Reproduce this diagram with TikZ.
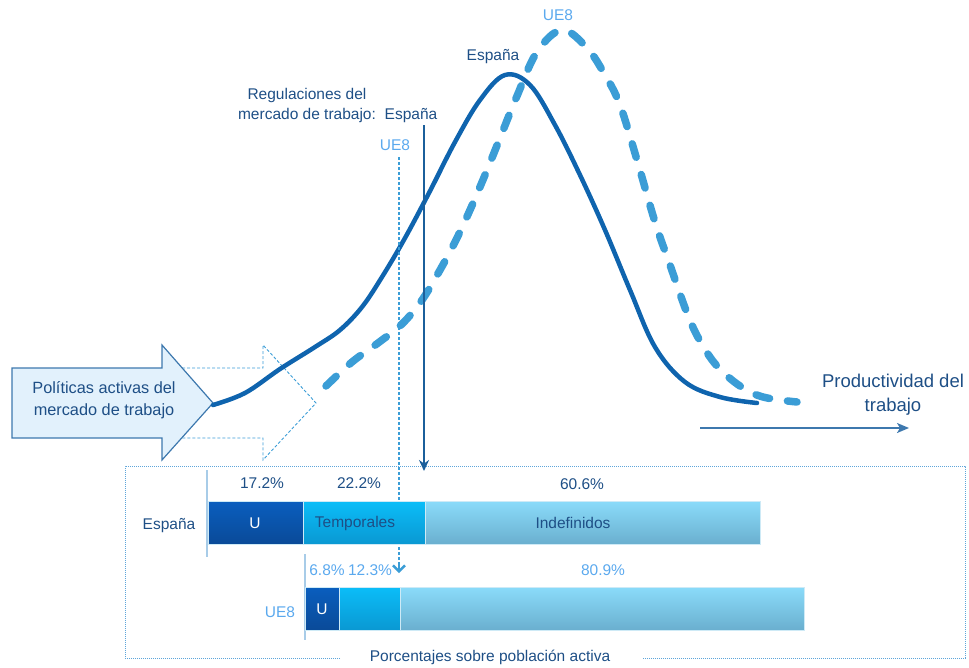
\documentclass[tikz,border=0pt]{standalone}
\usepackage{fontspec}
\setmainfont{Liberation Sans}
\usetikzlibrary{arrows.meta}
\definecolor{dtext}{HTML}{1E4F86}
\definecolor{ltext}{HTML}{5BA9EE}
\definecolor{scurve}{HTML}{0F64AE}
\definecolor{dcurve}{HTML}{3B9DD6}
\definecolor{vline}{HTML}{1B5F9B}
\definecolor{arrfill}{HTML}{E2F1FC}
\definecolor{arrdraw}{HTML}{3D78AE}
\definecolor{dotcol}{HTML}{5EA5DA}
\definecolor{uTop}{HTML}{0A5EBE}
\definecolor{uBot}{HTML}{0A4A98}
\definecolor{tTop}{HTML}{0BBDF8}
\definecolor{tBot}{HTML}{0A98D2}
\definecolor{iTop}{HTML}{8ADBFA}
\definecolor{iBot}{HTML}{6AAFCF}
\definecolor{tick}{HTML}{A8CCE8}
\tikzset{
  lbl/.style={inner sep=0pt, text=dtext},
  lblL/.style={inner sep=0pt, text=ltext},
  barseg/.style={anchor=north west, inner sep=0pt, draw=white!80!tBot, line width=0.6pt},
  segU/.style={barseg, top color=uTop, bottom color=uBot},
  segT/.style={barseg, top color=tTop, bottom color=tBot},
  segI/.style={barseg, top color=iTop, bottom color=iBot},
  dotbox/.style={draw=dotcol, line width=0.8pt, dash pattern=on 1pt off 1pt},
  ticks/.style={draw=tick, line width=1.5pt}
}
\begin{document}
\begin{tikzpicture}[x=1pt,y=-1pt, font=\fontsize{15.5}{20}\selectfont]
\useasboundingbox (0,0) rectangle (969,667);

% dotted frame
\draw[dotbox] (340,658) -- (125,658) -- (125,466) -- (965,466) -- (965,658) -- (642,658);
\node[lbl] (pct) at (490,657) {Porcentajes sobre población activa};

% dashed outline arrow
\draw[draw=dcurve, line width=0.9pt, dash pattern=on 3pt off 2pt]
  (162,368) -- (263,368) -- (263,345) -- (316,403) -- (263,460) -- (263,438) -- (162,438);
% solid arrow
\draw[fill=arrfill, draw=arrdraw, line width=1.2pt]
  (12,368) -- (162,368) -- (162,345) -- (213,403) -- (162,460) -- (162,438) -- (12,438) -- cycle;
\node[lbl, align=center, font=\fontsize{16.3}{22}\selectfont] (pol) at (104,400) {Políticas activas del\\mercado de trabajo};

% curves
\draw[scurve, line width=4.5pt, line cap=round] plot[smooth, tension=0.6] coordinates {
  (213,405) (245,393) (280,369) (315,347) (340,330) (362,307) (382,277) (405,238) (430,191)
  (455,142) (480,100) (505,75) (530,85) (555,125) (580,175) (605,230) (630,290) (655,347)
  (685,382) (720,397) (757,403)};
\draw[dcurve, line width=7.5pt, line cap=round, dash pattern=on 14pt off 18pt] plot[smooth, tension=0.6] coordinates {
  (326,386) (352,362) (378,343) (402,324) (422,300) (440,270) (455,242) (470,210) (485,175)
  (500,138) (517,96) (537,52) (562,30) (587,48) (605,75) (620,105) (637,160) (655,222)
  (670,265) (687,313) (700,341) (717,366) (740,386) (763,397) (797,402)};

\node[lbl] (esp) at (493,57) {España};
\node[lblL] (ue8) at (558,15) {UE8};

% regulation labels and arrows
\node[lbl, align=center] (reg) at (307,105) {Regulaciones del\\mercado de trabajo:};
\node[lbl] (regE) at (411,116) {España};
\node[lblL] (regU) at (395,145) {UE8};
\coordinate (eTop) at (424,125);
\coordinate (eBot) at (424,471);
\coordinate (uTopC) at (399,157);
\coordinate (uBotC) at (399,573);
\draw[vline, line width=2pt, -{Stealth[length=11pt,width=10pt]}] (eTop) -- (eBot);
\draw[dcurve, line width=1.2pt, dash pattern=on 3pt off 2pt] (uTopC) -- ([yshift=3pt]uBotC);
\draw[dcurve, line width=2.4pt, -{Straight Barb[length=6pt,width=12pt]}] ([yshift=8pt]uBotC) -- (uBotC);

% axis
\coordinate (ax0) at (700,428);
\coordinate (ax1) at (909,428);
\draw[arrdraw, line width=1.6pt, -{Stealth[length=12pt,width=10pt,inset=3pt]}] (ax0) -- (ax1);
\node[lbl, align=center, font=\fontsize{18.5}{24}\selectfont] (prod) at (893,395) {Productividad del\\trabajo};

% Spain bar
\draw[ticks] (207,470) -- (207,557);
\node[lbl] (espL) at (169,526) {España};
\node[segU, minimum width=95pt, minimum height=43pt] (bU) at (208,501) {};
\node[segT, minimum width=122pt, minimum height=43pt] (bT) at (303,501) {};
\node[segI, minimum width=335pt, minimum height=43pt] (bI) at (425,501) {};
\node[inner sep=0pt, text=white] at (255,523) {U};
\node[lbl] at (355,523) {Temporales};
\node[lbl] at (573,523) {Indefinidos};
\node[lbl] at (262,483) {17.2\%};
\node[lbl] at (359,483) {22.2\%};
\node[lbl] at (582,484) {60.6\%};

% UE8 bar
\draw[ticks] (305,554) -- (305,640);
\node[lblL] (ueL) at (280,612) {UE8};
\node[segU, minimum width=34pt, minimum height=43pt] (cU) at (305,587) {};
\node[segT, minimum width=61pt, minimum height=43pt] (cT) at (339,587) {};
\node[segI, minimum width=404pt, minimum height=43pt] (cI) at (400,587) {};
\node[inner sep=0pt, text=white] at (322,609) {U};
\node[lblL] at (327,570) {6.8\%};
\node[lblL] at (370,570) {12.3\%};
\node[lblL] at (603,570) {80.9\%};
\end{tikzpicture}
\end{document}
